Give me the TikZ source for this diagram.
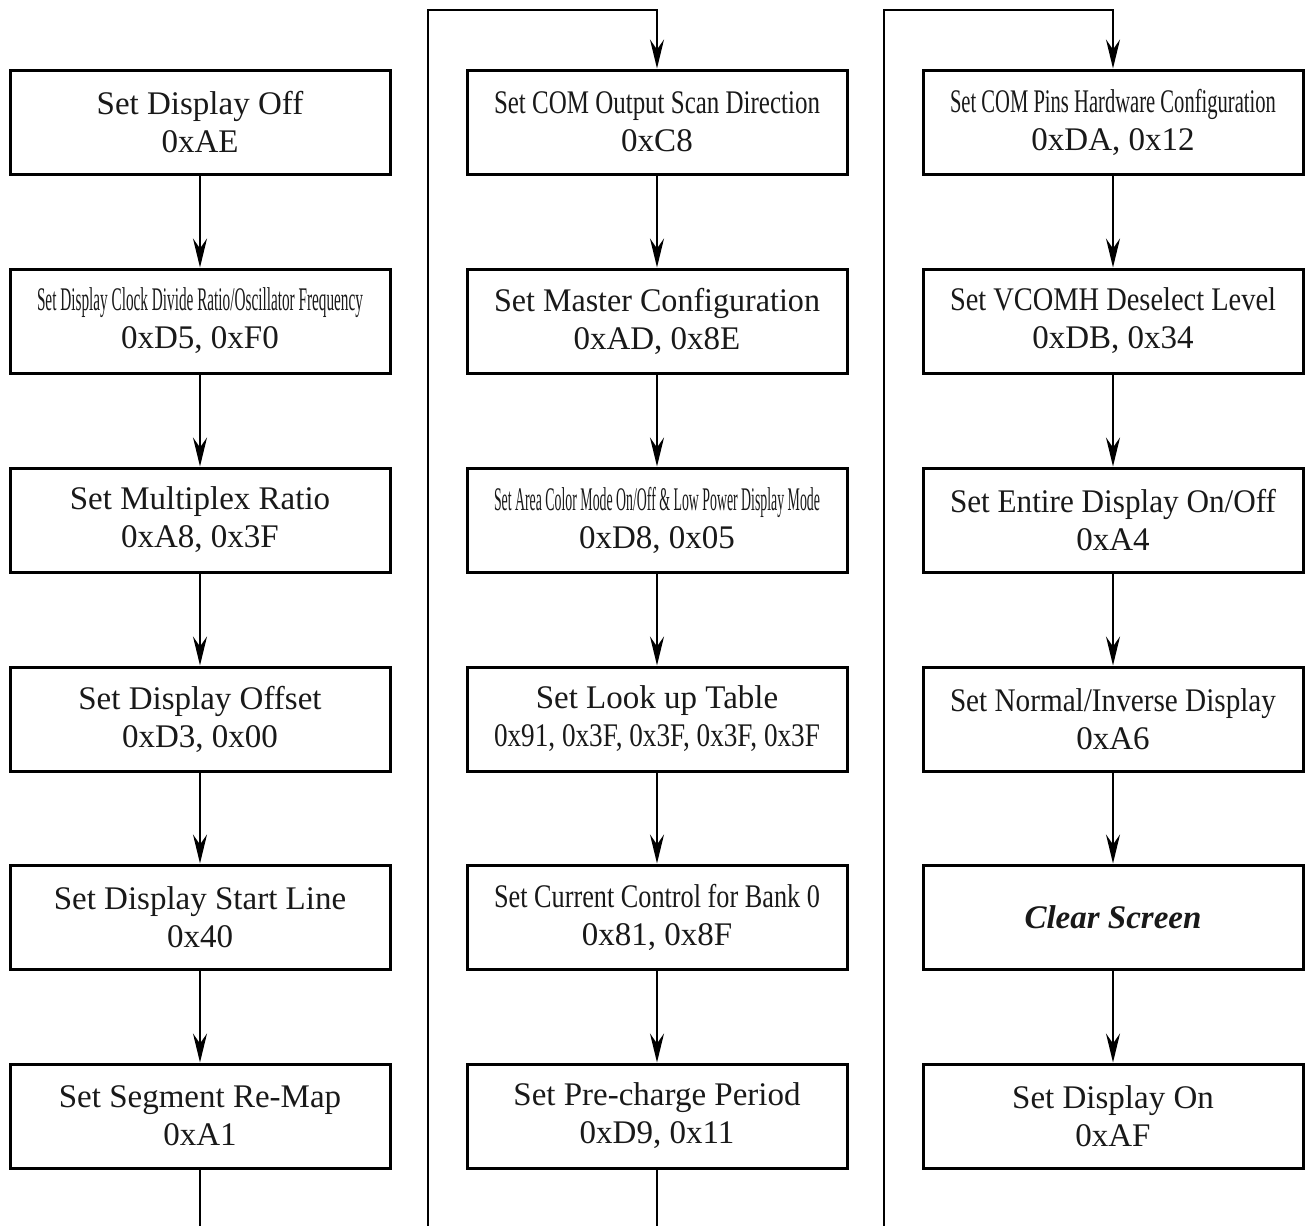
\documentclass[tikz,border=0pt]{standalone}
\usepackage{fontspec}
\setmainfont{Liberation Serif}
\usetikzlibrary{arrows.meta}
\newsavebox\fitbox
\newcommand\fitline[1]{\sbox\fitbox{#1}\ifdim\wd\fitbox>326pt\relax\resizebox{326pt}{\ht\fitbox}{\usebox\fitbox}\else\usebox\fitbox\fi}
\begin{document}
\begin{tikzpicture}[x=1pt,y=-1pt,
  cmd/.style={draw, line width=3pt, minimum width=380pt, minimum height=104pt, inner sep=0pt, align=center, font=\fontsize{33}{38}\selectfont, text=black!90},
  flow/.style={line width=2pt, -{Stealth[length=29pt,width=14pt,inset=10pt]}},
  plain/.style={line width=2pt}]
\useasboundingbox (0,0) rectangle (1310,1226);
% column 1
\node[cmd] (a1) at (200,122) {\fitline{Set Display Off}\\\fitline{0xAE}};
\node[cmd] (a2) at (200,321) {\fitline{Set Display Clock Divide Ratio/Oscillator Frequency}\\\fitline{0xD5, 0xF0}};
\node[cmd] (a3) at (200,520) {\fitline{Set Multiplex Ratio}\\\fitline{0xA8, 0x3F}};
\node[cmd] (a4) at (200,719) {\fitline{Set Display Offset}\\\fitline{0xD3, 0x00}};
\node[cmd] (a5) at (200,917) {\fitline{Set Display Start Line}\\\fitline{0x40}};
\node[cmd] (a6) at (200,1116) {\fitline{Set Segment Re-Map}\\\fitline{0xA1}};
% column 2
\node[cmd] (b1) at (657,122) {\fitline{Set COM Output Scan Direction}\\\fitline{0xC8}};
\node[cmd] (b2) at (657,321) {\fitline{Set Master Configuration}\\\fitline{0xAD, 0x8E}};
\node[cmd] (b3) at (657,520) {\fitline{Set Area Color Mode On/Off \& Low Power Display Mode}\\\fitline{0xD8, 0x05}};
\node[cmd] (b4) at (657,719) {\fitline{Set Look up Table}\\\fitline{0x91, 0x3F, 0x3F, 0x3F, 0x3F}};
\node[cmd] (b5) at (657,917) {\fitline{Set Current Control for Bank 0}\\\fitline{0x81, 0x8F}};
\node[cmd] (b6) at (657,1116) {\fitline{Set Pre-charge Period}\\\fitline{0xD9, 0x11}};
% column 3
\node[cmd] (c1) at (1113,122) {\fitline{Set COM Pins Hardware Configuration}\\\fitline{0xDA, 0x12}};
\node[cmd] (c2) at (1113,321) {\fitline{Set VCOMH Deselect Level}\\\fitline{0xDB, 0x34}};
\node[cmd] (c3) at (1113,520) {\fitline{Set Entire Display On/Off}\\\fitline{0xA4}};
\node[cmd] (c4) at (1113,719) {\fitline{Set Normal/Inverse Display}\\\fitline{0xA6}};
\node[cmd] (c5) at (1113,917) {\bfseries\itshape Clear Screen};
\node[cmd] (c6) at (1113,1116) {\fitline{Set Display On}\\\fitline{0xAF}};
% connectors
\foreach \col in {a,b,c}{
  \foreach \i/\j in {1/2,2/3,3/4,4/5,5/6}{
    \draw[flow] (\col\i) -- (\col\j);
  }
}
\coordinate (aout) at (200,1226);
\coordinate (bout) at (657,1226);
\coordinate (bin) at (428,1226);
\coordinate (cin) at (884,1226);
\coordinate (btop) at (657,10);
\coordinate (ctop) at (1113,10);
\draw[plain] (a6) -- (aout);
\draw[plain] (b6) -- (bout);
\draw[flow] (bin) |- (btop) -- (b1);
\draw[flow] (cin) |- (ctop) -- (c1);
\end{tikzpicture}
\end{document}
